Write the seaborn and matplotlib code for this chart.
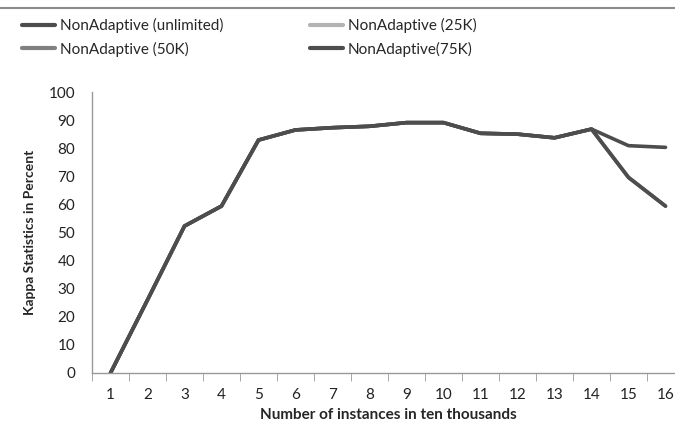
import pandas as pd
import seaborn as sns
import matplotlib.pyplot as plt
from matplotlib.lines import Line2D

# values
instances = list(range(1, 17))
unlimited = [0, 26, 52.3, 59.4, 82.9, 86.5, 87.3, 87.8, 89.1, 89.1, 85.3, 85.0, 83.7, 86.8, 80.9, 80.3]
limit_25k = [0, 26, 52.3, 59.4, 82.9, 86.5, 87.3, 87.8, 89.1, 89.1, 85.3, 85.0, 83.7, 86.8, 69.6, 59.4]
limit_50k = [0, 26, 52.3, 59.4, 82.9, 86.5, 87.3, 87.8, 89.1, 89.1, 85.3, 85.0, 83.7, 86.8, 69.6, 59.4]
limit_75k = [0, 26, 52.3, 59.4, 82.9, 86.5, 87.3, 87.8, 89.1, 89.1, 85.3, 85.0, 83.7, 86.8, 69.6, 59.4]

names = ["NonAdaptive (unlimited)", "NonAdaptive (25K)", "NonAdaptive (50K)", "NonAdaptive(75K)"]
colors = {"NonAdaptive (unlimited)": "#4d4d4d", "NonAdaptive (25K)": "#b3b3b3",
          "NonAdaptive (50K)": "#808080", "NonAdaptive(75K)": "#4d4d4d"}

df = pd.concat([
    pd.DataFrame({"x": instances, "y": vals, "series": name})
    for name, vals in zip(names, [unlimited, limit_25k, limit_50k, limit_75k])
])

sns.set_style("white")
plt.rcParams["font.family"] = ["Lato", "DejaVu Sans"]

fig = plt.figure(figsize=(6.75, 4.45), dpi=100)
ax = fig.add_axes([92 / 675, 72 / 445, 592 / 675, 281 / 445])

# draw lighter series first so the dark ones sit on top
for name in ["NonAdaptive (25K)", "NonAdaptive (50K)", "NonAdaptive(75K)", "NonAdaptive (unlimited)"]:
    sns.lineplot(data=df[df["series"] == name], x="x", y="y", color=colors[name],
                 linewidth=2.6, ax=ax, legend=False)

ax.set_xlim(0.5, 16.5)
ax.set_ylim(0, 100)
ax.set_yticks(range(0, 101, 10))
ax.set_xticks(instances)
ax.set_xticks([i + 0.5 for i in range(0, 17)], minor=True)
ax.tick_params(axis="x", which="major", length=0, pad=11, labelsize=11, colors="#222222")
ax.tick_params(axis="x", which="minor", length=6, color="#999999", direction="out", bottom=True)
ax.tick_params(axis="y", length=6, color="#999999", direction="out", labelsize=11,
               labelcolor="#222222", pad=6)
for s in ["top", "right"]:
    ax.spines[s].set_visible(False)
for s in ["left", "bottom"]:
    ax.spines[s].set_color("#999999")
    ax.spines[s].set_linewidth(1)

ax.set_xlabel("Number of instances in ten thousands", fontsize=11, fontweight="bold", labelpad=4)
ax.set_ylabel("Kappa Statistics in Percent", fontsize=10, fontweight="bold", labelpad=9)

# legend above the plot, two columns
handles = [Line2D([], [], color=colors[n], linewidth=3) for n in names]
order = [0, 2, 1, 3]
fig.legend([handles[i] for i in order], [names[i] for i in order],
           loc="upper left", bbox_to_anchor=(0.012, 0.99), ncol=2, frameon=False,
           fontsize=11, handlelength=2.2, handletextpad=0.3, columnspacing=5.65,
           labelspacing=0.55)

fig.add_artist(Line2D([0, 1], [1 - 8 / 445, 1 - 8 / 445], color="#8c8c8c", linewidth=1.5,
                      transform=fig.transFigure))

fig.savefig("out.png", dpi=100)
